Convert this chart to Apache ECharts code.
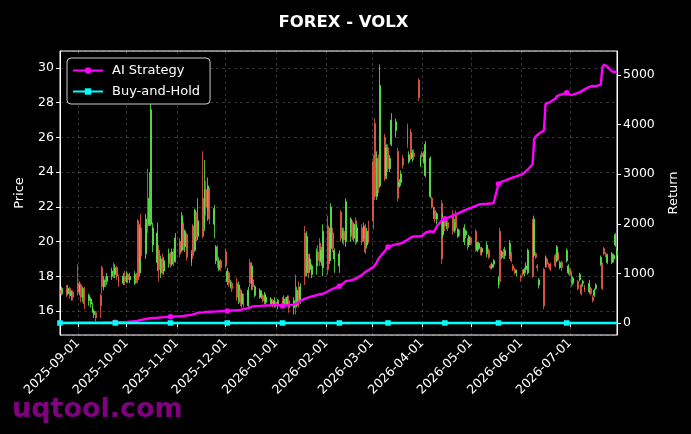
<!DOCTYPE html>
<html>
<head>
<meta charset="utf-8">
<script src="https://cdn.jsdelivr.net/npm/echarts@6/dist/echarts.min.js"></script>
<style>
html,body{margin:0;padding:0;background:#000;}
#chart{width:691px;height:434px;}
</style>
</head>
<body>
<div id="chart"></div>
<script>
// ---- data ----
const startDate = '2025-08-21';
const endDate = '2026-07-30';
// [open, close, low, high] per trading day
const ohlc = [
[17.2,17.0,16.9,17.4],[17.0,17.3,16.9,17.4],
[17.3,17.0,16.8,17.5],[17.0,17.3,16.9,17.5],[17.3,16.9,16.7,17.4],[16.9,17.1,16.6,17.2],[17.1,16.8,16.6,17.2],
[17.6,17.1,16.9,18.7],[17.1,17.5,16.9,17.7],[17.5,16.8,16.5,17.6],[16.8,17.3,16.5,17.4],[17.3,16.4,16.1,17.4],
[16.6,16.9,16.3,17.0],[16.4,16.7,16.2,16.8],[16.0,16.3,15.9,16.5],[15.8,16.0,15.6,16.1],[15.9,15.6,15.4,16.0],
[16.9,16.3,15.6,17.0],[18.5,17.4,17.0,18.6],[17.4,17.8,17.2,18.0],[17.8,17.6,17.4,18.0],[17.7,18.0,17.5,18.2],
[18.0,18.3,17.8,18.5],[18.4,18.1,17.9,18.8],[18.1,18.5,17.9,18.7],[18.5,18.0,17.8,18.6],[18.0,17.6,17.4,18.1],
[17.6,18.0,17.5,18.2],[18.0,17.7,17.5,18.3],[17.7,18.1,17.6,18.3],[18.1,17.8,17.6,18.2],[17.8,18.0,17.6,18.2],
[17.6,18.1,17.5,18.3],[18.1,17.7,17.6,18.2],[21.2,17.8,17.6,21.3],[18.2,20.8,18.0,21.0],[20.8,19.2,19.0,21.6],
[19.3,21.3,19.0,21.6],[21.3,20.9,20.5,24.2],[21.0,22.5,20.9,24.0],[21.0,27.6,20.9,28.3],[19.8,20.8,19.4,21.1],
[18.8,20.5,18.3,21.1],[19.5,18.4,17.7,19.8],[18.2,19.0,17.9,19.2],[19.0,18.3,18.1,19.3],[18.3,18.9,18.1,19.1],
[18.9,19.3,18.5,19.6],[19.3,18.7,18.5,19.4],[18.7,19.4,18.6,19.6],[19.4,18.8,18.6,19.6],[18.9,20.2,18.8,20.5],
[20.0,19.3,19.1,20.2],[19.5,21.5,19.4,21.7],[21.0,19.8,19.5,21.1],[19.7,20.6,19.4,20.7],[20.4,19.1,18.9,20.5],
[18.8,19.3,18.6,19.5],[20.9,19.2,19.0,21.0],[19.5,21.8,19.4,21.9],[21.5,20.3,20.0,21.7],[20.3,21.2,20.1,22.5],
[22.5,20.3,20.2,25.2],[20.8,23.0,20.6,24.7],[23.0,22.0,21.5,23.5],[21.8,23.2,21.2,23.7],[23.0,21.3,21.0,23.1],
[21.0,21.9,20.2,22.1],[18.9,19.7,18.7,19.8],[19.6,18.8,18.5,19.8],[18.4,18.9,18.3,19.1],[18.9,18.5,18.3,19.0],
[19.4,18.6,18.5,19.6],[17.7,18.3,17.5,18.5],[18.2,17.6,17.4,18.3],[17.4,17.6,17.3,17.8],[17.6,17.3,17.1,17.7],
[17.6,16.8,16.6,17.9],[16.6,17.5,16.4,17.7],[17.2,16.5,16.3,17.3],[16.4,17.0,16.2,17.2],[16.8,16.3,16.2,17.0],
[16.3,17.2,16.2,17.4],[18.8,17.6,17.4,19.0],[17.6,18.6,17.2,18.8],[17.8,17.4,17.2,18.0],[16.9,17.4,16.8,17.5],
[16.8,17.2,16.7,17.3],[16.8,17.1,16.7,17.2],[16.9,16.6,16.5,17.0],[16.6,16.9,16.4,17.1],[16.5,16.8,16.4,17.0],
[16.4,16.7,16.3,16.8],[16.6,16.4,16.2,16.7],[16.3,16.6,16.2,16.8],[16.5,16.3,16.2,16.6],[16.3,16.6,16.1,16.7],
[16.6,16.3,16.2,16.8],[16.3,16.7,16.2,16.9],[16.7,16.4,16.2,16.8],[16.4,16.8,16.3,16.9],[16.6,16.2,15.9,16.9],
[16.2,16.6,15.8,16.8],[17.9,16.2,15.8,18.1],[16.3,17.2,16.2,17.4],[17.2,16.6,16.2,17.7],[16.6,17.4,16.4,17.6],
[20.5,18.0,17.5,20.9],[18.2,20.3,18.0,20.6],[19.1,18.2,17.9,19.3],[18.4,19.0,18.2,19.3],[18.1,18.6,17.9,18.7],
[18.6,19.4,18.1,19.6],[19.4,18.9,18.7,19.8],[19.9,18.8,18.6,20.2],[18.9,19.5,18.6,19.7],[18.5,20.6,18.0,21.0],
[20.9,18.4,18.1,21.5],[18.9,20.5,18.7,20.8],[19.6,22.0,19.4,22.2],[20.5,19.6,19.4,20.8],[19.0,19.5,18.2,19.6],
[18.6,19.3,18.2,19.5],[21.7,20.2,20.0,21.8],[20.1,20.6,19.9,20.8],[20.6,20.1,19.8,20.8],[20.0,22.3,19.7,22.5],
[20.5,21.3,20.0,21.4],[21.0,20.3,20.1,21.2],[20.2,21.0,20.0,21.1],[21.2,20.0,19.8,21.4],[20.0,20.8,19.9,21.0],
[20.8,20.0,19.8,21.0],[20.2,20.9,20.0,21.1],[20.9,19.4,19.3,21.0],[19.8,20.6,19.6,20.8],[20.7,20.0,19.9,21.2],
[24.6,21.2,20.7,25.0],[26.8,22.6,22.4,27.1],[22.6,24.8,22.4,25.2],[24.8,23.0,22.8,25.0],[23.2,29.0,23.1,30.2],
[26.0,23.6,23.5,26.2],[23.8,25.4,23.6,25.6],[25.4,24.2,24.0,25.6],[24.2,24.8,24.0,25.0],[25.6,27.0,25.5,27.4],
[26.4,26.9,26.0,27.1],[25.2,22.5,22.3,25.4],[23.2,23.4,23.1,23.6],[23.4,23.9,23.2,24.1],[24.8,24.4,24.2,25.0],
[26.5,25.6,25.4,26.8],[24.6,25.0,24.5,25.2],[26.3,24.8,24.7,26.5],[24.8,25.1,24.6,25.3],[25.1,24.9,24.7,25.3],
[29.3,28.3,28.1,29.4],[24.4,24.8,24.3,25.0],[25.1,24.9,24.8,25.2],[24.6,25.0,24.5,25.2],[23.8,25.6,23.7,25.8],
[22.6,24.8,22.5,24.9],[22.5,22.0,21.9,22.6],[21.5,21.8,21.3,22.0],[21.8,21.3,21.1,22.0],[21.3,21.6,21.0,21.7],
[22.2,19.0,18.7,22.4],[20.4,21.3,20.2,21.6],[21.3,20.9,20.6,21.4],[20.9,21.1,20.7,21.3],[21.1,20.8,20.6,21.2],
[21.6,20.6,20.4,21.8],[20.7,21.1,20.5,21.3],[21.6,20.8,20.6,21.8],[20.3,20.7,20.2,20.8],[20.6,20.4,20.3,20.7],
[20.0,20.8,19.8,21.0],[20.4,20.6,20.2,20.7],[20.1,19.7,19.5,20.2],[19.8,20.3,19.7,20.4],[20.2,19.9,19.8,20.3],
[20.6,19.6,19.4,20.7],[19.5,19.9,19.4,20.0],[19.6,19.9,19.5,20.0],[19.6,19.4,19.2,19.7],[19.4,19.6,19.2,19.7],
[19.3,19.8,19.1,20.0],[19.5,19.1,19.0,19.6],[18.6,18.5,18.4,18.7],[18.5,18.7,18.4,18.8],[18.7,18.9,18.5,19.0],
[17.5,17.9,17.3,18.0],[20.6,17.7,17.5,20.8],[19.1,19.4,19.0,19.5],[19.4,19.2,19.0,19.6],[19.2,19.5,19.0,19.7],
[19.2,19.9,19.0,20.1],[19.3,18.9,18.8,19.4],[18.6,18.4,18.3,18.7],[18.4,18.2,18.1,18.5],[18.2,18.3,18.0,18.4],
[18.0,17.9,17.7,18.1],[18.3,18.1,18.0,18.4],[18.2,18.4,18.0,18.5],[18.4,18.6,18.2,18.8],[18.2,19.5,18.1,19.6],
[21.0,18.0,17.9,21.3],[19.2,21.3,19.1,21.5],[19.3,19.1,19.0,19.4],[18.6,18.5,18.3,18.7],[17.5,17.8,17.3,17.9],
[18.4,16.3,16.1,18.5],[18.6,19.1,18.5,19.2],[19.0,18.7,18.5,19.1],[18.7,18.6,18.5,18.8],[18.7,18.4,18.3,18.8],
[19.2,18.6,18.5,19.3],[18.9,19.7,18.8,19.8],[19.3,19.0,18.9,19.4],[18.5,18.8,18.4,18.9],[18.8,18.5,18.3,18.9],
[18.9,19.5,18.8,19.6],[18.2,18.6,18.1,18.7],[18.4,18.1,18.0,18.5],[18.2,17.6,17.4,18.3],[17.6,17.9,17.5,18.0],
[17.7,17.3,17.2,17.8],[17.8,18.1,17.7,18.2],[17.5,17.0,16.9,17.6],[17.6,17.7,17.4,17.8],[17.4,17.2,17.1,17.5],
[17.1,17.6,17.0,17.8],[17.3,17.0,16.9,17.4],[16.8,16.6,16.5,16.9],[16.9,17.2,16.8,17.3],[17.3,17.5,17.2,17.6],
[18.7,19.1,18.6,19.2],[18.7,17.3,17.2,18.8],[19.6,19.3,19.2,19.7],[19.3,19.2,19.1,19.4],[18.8,19.2,18.7,19.3],
[18.8,19.3,18.7,19.4],[19.0,19.2,18.8,19.3],[19.8,20.4,19.7,20.5],[19.2,19.5,19.1,19.6]
];
// AI strategy cumulative return per trading day
const strategy = [
0,1,
2,2,3,3,3, 4,4,5,5,5, 6,6,7,7,7, 8,8,9,9,10, 11,12,13,14,15,
18,20,22,25,28, 34,40,46,54,62, 80,86,92,96,100, 106,110,113,116,118, 126,128,130,132,133,
137,140,142,145,150, 165,175,185,195,205, 215,220,222,224,226, 230,232,234,236,238, 241,243,246,250,254,
258,261,264,270,280, 300,320,330,336,340, 346,349,351,352,353, 355,357,360,362,362, 345,348,355,358,360,
365,380,400,430,450, 490,505,515,525,535, 560,570,580,585,590, 640,660,675,690,705, 740,765,790,820,845,
860,868,880,893,910, 970,1000,1030,1050,1070, 1130,1150,1220,1290,1330, 1450,1500,1530,1550,1565,
1587,1592,1598,1605,1620, 1680,1700,1725,1740,1745, 1750,1752,1755,1780,1820, 1850,1812,1830,1880,1950,
2060,2085,2100,2110,2125, 2165,2180,2195,2205,2220, 2270,2282,2295,2310,2320, 2360,2375,2388,2393,2398,
2405,2407,2410,2412,2414, 2800,2830,2850,2860,2870, 2910,2925,2935,2945,2955, 2990,3005,3030,3060,3090,
3200,3710,3760,3800,3820, 3880,4420,4430,4440,4445, 4520,4575,4590,4600,4610, 4640,4630,4600,4595,4605,
4640,4655,4670,4690,4710, 4760,4775,4780,4778,4775, 4800,5160,5210,5220,5170, 5070,5060,5060,5060
];
// Buy-and-hold return at sampled trading days
const bhIdx = [0,24,48,73,97,122,144,169,192,222,245];
const bhVals = [0,0.09,0.10,0.08,-0.04,0.14,0.42,0.23,0.05,0.15,0.15];
const markIdx = [0,24,48,73,97,122,144,169,192,222];

// ---- trading calendar (weekdays) ----
function pad(n){return n<10?'0'+n:''+n;}
function fmt(d){return d.getFullYear()+'-'+pad(d.getMonth()+1)+'-'+pad(d.getDate());}
function tradingDays(s,e){
  const out=[]; const d=new Date(s+'T00:00:00'); const end=new Date(e+'T00:00:00');
  while(d<=end){const w=d.getDay(); if(w!==0&&w!==6) out.push(fmt(d)); d.setDate(d.getDate()+1);}
  return out;
}
const dates = tradingDays(startDate,endDate);
const n = Math.min(dates.length, ohlc.length, strategy.length);
const candleData = [], stratData = [];
for(let i=0;i<n;i++){
  candleData.push([dates[i], ohlc[i][0], ohlc[i][1], ohlc[i][2], ohlc[i][3]]);
  stratData.push([dates[i], strategy[i]]);
}
const bhData = bhIdx.map((k,j)=>[dates[Math.min(k,n-1)], bhVals[j]]);
const markSet = new Set(markIdx);

const FONT = 'DejaVu Sans';
const chart = echarts.init(document.getElementById('chart'), null, {renderer:'canvas'});
chart.setOption({
  backgroundColor:'#000',
  animation:false,
  textStyle:{fontFamily:FONT},
  title:{
    text:'FOREX - VOLX', left:338.5, top:9, textAlign:'center',
    textStyle:{color:'#fff', fontSize:16.5, fontWeight:'bold', fontFamily:FONT}
  },
  legend:{
    orient:'vertical', left:67, top:58,
    data:['AI Strategy','Buy-and-Hold'],
    backgroundColor:'#000', borderColor:'#cccccc', borderWidth:1, borderRadius:4,
    padding:[6,10,6,5], itemWidth:30, itemHeight:8, itemGap:8,
    textStyle:{color:'#fff', fontSize:13, fontFamily:FONT, padding:[0,0,0,4]}
  },
  grid:{left:60, right:74, top:51, bottom:99, show:true, borderColor:'#fff', borderWidth:1, outerBoundsMode:'none'},
  xAxis:{
    type:'time', min:dates[0], max:dates[n-1], splitNumber:12,
    axisLine:{show:true, lineStyle:{color:'#fff', width:1}},
    axisTick:{show:true, length:4, lineStyle:{color:'#fff'}},
    axisLabel:{color:'#fff', fontSize:12.5, fontFamily:FONT, rotate:45, margin:6,
      formatter:'{yyyy}-{MM}-{dd}', showMinLabel:false, showMaxLabel:false, hideOverlap:false},
    splitLine:{show:true, lineStyle:{color:'rgba(255,255,255,0.28)', type:[3,3], width:0.7}}
  },
  yAxis:[
    {
      type:'value', min:14.62, max:30.98, minInterval:2, maxInterval:2, position:'left',
      name:'Price', nameLocation:'middle', nameGap:34, nameRotate:90,
      nameTextStyle:{color:'#fff', fontSize:13, fontFamily:FONT},
      axisLine:{show:true, lineStyle:{color:'#fff'}},
      axisTick:{show:true, length:4, lineStyle:{color:'#fff'}},
      axisLabel:{color:'#fff', fontSize:12.5, fontFamily:FONT, margin:6, showMinLabel:false, showMaxLabel:false},
      splitLine:{show:true, lineStyle:{color:'rgba(255,255,255,0.28)', type:[3,3], width:0.7}}
    },
    {
      type:'value', min:-242, max:5484, minInterval:1000, maxInterval:1000, position:'right',
      name:'Return', nameLocation:'middle', nameGap:50, nameRotate:90,
      nameTextStyle:{color:'#fff', fontSize:13, fontFamily:FONT},
      axisLine:{show:true, lineStyle:{color:'#fff'}},
      axisTick:{show:true, length:4, lineStyle:{color:'#fff'}},
      axisLabel:{color:'#fff', fontSize:12.5, fontFamily:FONT, margin:6, showMinLabel:false, showMaxLabel:false,
        formatter:function(v){return String(v);}},
      splitLine:{show:false}
    }
  ],
  series:[
    {
      type:'candlestick', name:'Price', xAxisIndex:0, yAxisIndex:0,
      data:candleData, encode:{x:0, y:[1,2,3,4]},
      barWidth:1.4,
      itemStyle:{color:'#5cf04a', color0:'#f05a48', borderColor:'#5cf04a', borderColor0:'#f05a48', borderWidth:0.8},
      z:2
    },
    {
      type:'line', name:'AI Strategy', yAxisIndex:1, data:stratData,
      symbol:'circle', showSymbol:true, showAllSymbol:true,
      symbolSize:function(v,p){return markSet.has(p.dataIndex)?5.5:0;},
      lineStyle:{color:'#ff00ff', width:2.4}, itemStyle:{color:'#ff00ff'},
      z:5
    },
    {
      type:'line', name:'Buy-and-Hold', yAxisIndex:1, data:bhData,
      symbol:'rect', showSymbol:true, showAllSymbol:true,
      symbolSize:function(v,p){return p.dataIndex<bhIdx.length-1?5.5:0;},
      lineStyle:{color:'#00ffff', width:2.4}, itemStyle:{color:'#00ffff'},
      z:5
    }
  ],
  graphic:[{
    type:'text', left:12, top:396, z:100,
    style:{text:'uqtool.com', fill:'#800080', font:'bold 27px "DejaVu Sans"'}
  }]
});
</script>
</body>
</html>
